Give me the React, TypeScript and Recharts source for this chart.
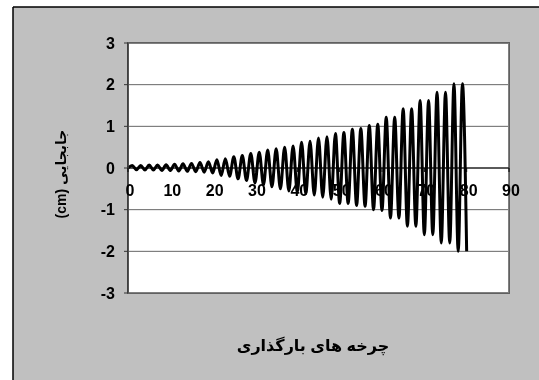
import { CartesianGrid, Label, Line, LineChart, ReferenceArea, ReferenceLine, XAxis, YAxis } from 'recharts'

// cycle index (x) runs 0..80, one sample per half-cycle peak
const cycleSteps = [
  0, 1, 2, 3, 4, 5, 6, 7, 8, 9, 10, 11, 12, 13, 14, 15, 16, 17, 18, 19, 20,
  21, 22, 23, 24, 25, 26, 27, 28, 29, 30, 31, 32, 33, 34, 35, 36, 37, 38, 39, 40,
  41, 42, 43, 44, 45, 46, 47, 48, 49, 50, 51, 52, 53, 54, 55, 56, 57, 58, 59, 60,
  61, 62, 63, 64, 65, 66, 67, 68, 69, 70, 71, 72, 73, 74, 75, 76, 77, 78, 79, 80,
]

// displacement (cm)
const displacement = [
  0,
  0.06, -0.04, 0.06, -0.05, 0.07, -0.05, 0.07, -0.06, 0.08, -0.06,
  0.09, -0.07, 0.1, -0.08, 0.11, -0.09, 0.13, -0.1, 0.15, -0.12,
  0.2, -0.18, 0.22, -0.2, 0.27, -0.26, 0.3, -0.3, 0.35, -0.36,
  0.38, -0.4, 0.43, -0.45, 0.46, -0.5, 0.5, -0.55, 0.53, -0.58,
  0.62, -0.62, 0.64, -0.65, 0.72, -0.7, 0.75, -0.75, 0.83, -0.85,
  0.85, -0.85, 0.93, -0.9, 0.95, -0.92, 1.02, -1.0, 1.05, -1.02,
  1.22, -1.2, 1.22, -1.2, 1.42, -1.4, 1.42, -1.4, 1.62, -1.6,
  1.62, -1.6, 1.82, -1.8, 1.82, -1.8, 2.02, -2.0, 2.02, -2.0,
]

const xTicks = [0, 10, 20, 30, 40, 50, 60, 70, 80, 90]
const yTicks = [-3, -2, -1, 0, 1, 2, 3]

const xTitle = 'چرخه های بارگذاری'
const yTitle = '(cm) جابجایی'

const data = cycleSteps.map((x, i) => ({ x, y: displacement[i] }))

// the grey chart area starts 13px in and 7px down, like the Excel frame
const CHART_LEFT = 13
const CHART_TOP = 7
const W = 539 - CHART_LEFT
const H = 380 - CHART_TOP
const Y_AXIS_W = 115
const RIGHT = 30
const PLOT_TOP = 36
const PLOT_BOTTOM = 286
const ZERO_Y = (PLOT_TOP + PLOT_BOTTOM) / 2
const FONT = 'Arial, "Liberation Sans", "DejaVu Sans", sans-serif'

// page coords of the white plot area (used to cut a hole in the grey frame)
const PX0 = CHART_LEFT + Y_AXIS_W
const PX1 = 539 - RIGHT
const PY0 = CHART_TOP + PLOT_TOP
const PY1 = CHART_TOP + PLOT_BOTTOM
const framePath =
  `M${CHART_LEFT} ${CHART_TOP} H539 V380 H${CHART_LEFT} Z ` +
  `M${PX0} ${PY0} V${PY1} H${PX1} V${PY0} Z`

// Excel draws the category axis where y = 0, so labels sit under that line
const XTick = ({ x, payload }: any) => (
  <g>
    <line x1={x} x2={x} y1={ZERO_Y} y2={ZERO_Y + 4} stroke="#000" />
    <text
      x={x + 2}
      y={ZERO_Y + 28}
      textAnchor="middle"
      fontFamily={FONT}
      fontWeight={700}
      fontSize={16}
      fill="#000"
    >
      {payload.value}
    </text>
  </g>
)

export default function App() {
  return (
    <div style={{ position: 'absolute', left: 0, top: 0, width: 539, height: 380, overflow: 'hidden', background: '#fff' }}>
      <div style={{ position: 'absolute', left: CHART_LEFT, top: CHART_TOP }}>
        <LineChart
          width={W}
          height={H}
          data={data}
          margin={{ top: PLOT_TOP, right: RIGHT, bottom: 47, left: 0 }}
        >
          <CartesianGrid vertical={false} stroke="#666" />
          <XAxis
            dataKey="x"
            type="number"
            domain={[0, 90]}
            ticks={xTicks}
            height={40}
            axisLine={false}
            tickLine={false}
            tick={<XTick />}
            interval={0}
          >
            <Label
              content={() => (
                <text
                  x={300}
                  y={338}
                  textAnchor="middle"
                  dominantBaseline="central"
                  fontFamily={FONT}
                  fontWeight={700}
                  fontSize={16}
                  fill="#000"
                >
                  {xTitle}
                </text>
              )}
            />
          </XAxis>
          <YAxis
            type="number"
            domain={[-3, 3]}
            ticks={yTicks}
            width={Y_AXIS_W}
            interval={0}
            axisLine={{ stroke: '#444', strokeWidth: 1.5 }}
            tickLine={{ stroke: '#444' }}
            tickSize={4}
            tickMargin={9}
            tick={{ fontFamily: FONT, fontWeight: 700, fontSize: 16, fill: '#000' }}
          >
            <Label
              content={() => (
                <text
                  x={0}
                  y={0}
                  transform="translate(48,167) rotate(-90)"
                  textAnchor="middle"
                  dominantBaseline="central"
                  fontFamily={FONT}
                  fontWeight={700}
                  fontSize={14}
                  fill="#000"
                >
                  {yTitle}
                </text>
              )}
            />
          </YAxis>
          <ReferenceArea x1={0} x2={90} y1={-3} y2={3} fill="none" stroke="#808080" strokeWidth={2} ifOverflow="visible" />
          <ReferenceLine y={0} stroke="#000" />
          <Line
            dataKey="y"
            type="monotone"
            stroke="#000"
            strokeWidth={3}
            dot={false}
            isAnimationActive={false}
          />
        </LineChart>
      </div>
      {/* grey frame laid over the chart with multiply, so dark text stays dark */}
      <svg
        width={539}
        height={380}
        style={{ position: 'absolute', left: 0, top: 0, pointerEvents: 'none', mixBlendMode: 'multiply' }}
      >
        <path d={framePath} fill="#c0c0c0" fillRule="evenodd" />
        <line x1={CHART_LEFT} x2={CHART_LEFT} y1={CHART_TOP} y2={380} stroke="#000" strokeWidth={1.5} />
        <line x1={CHART_LEFT} x2={539} y1={CHART_TOP} y2={CHART_TOP} stroke="#000" strokeWidth={1.5} />
      </svg>
    </div>
  )
}
